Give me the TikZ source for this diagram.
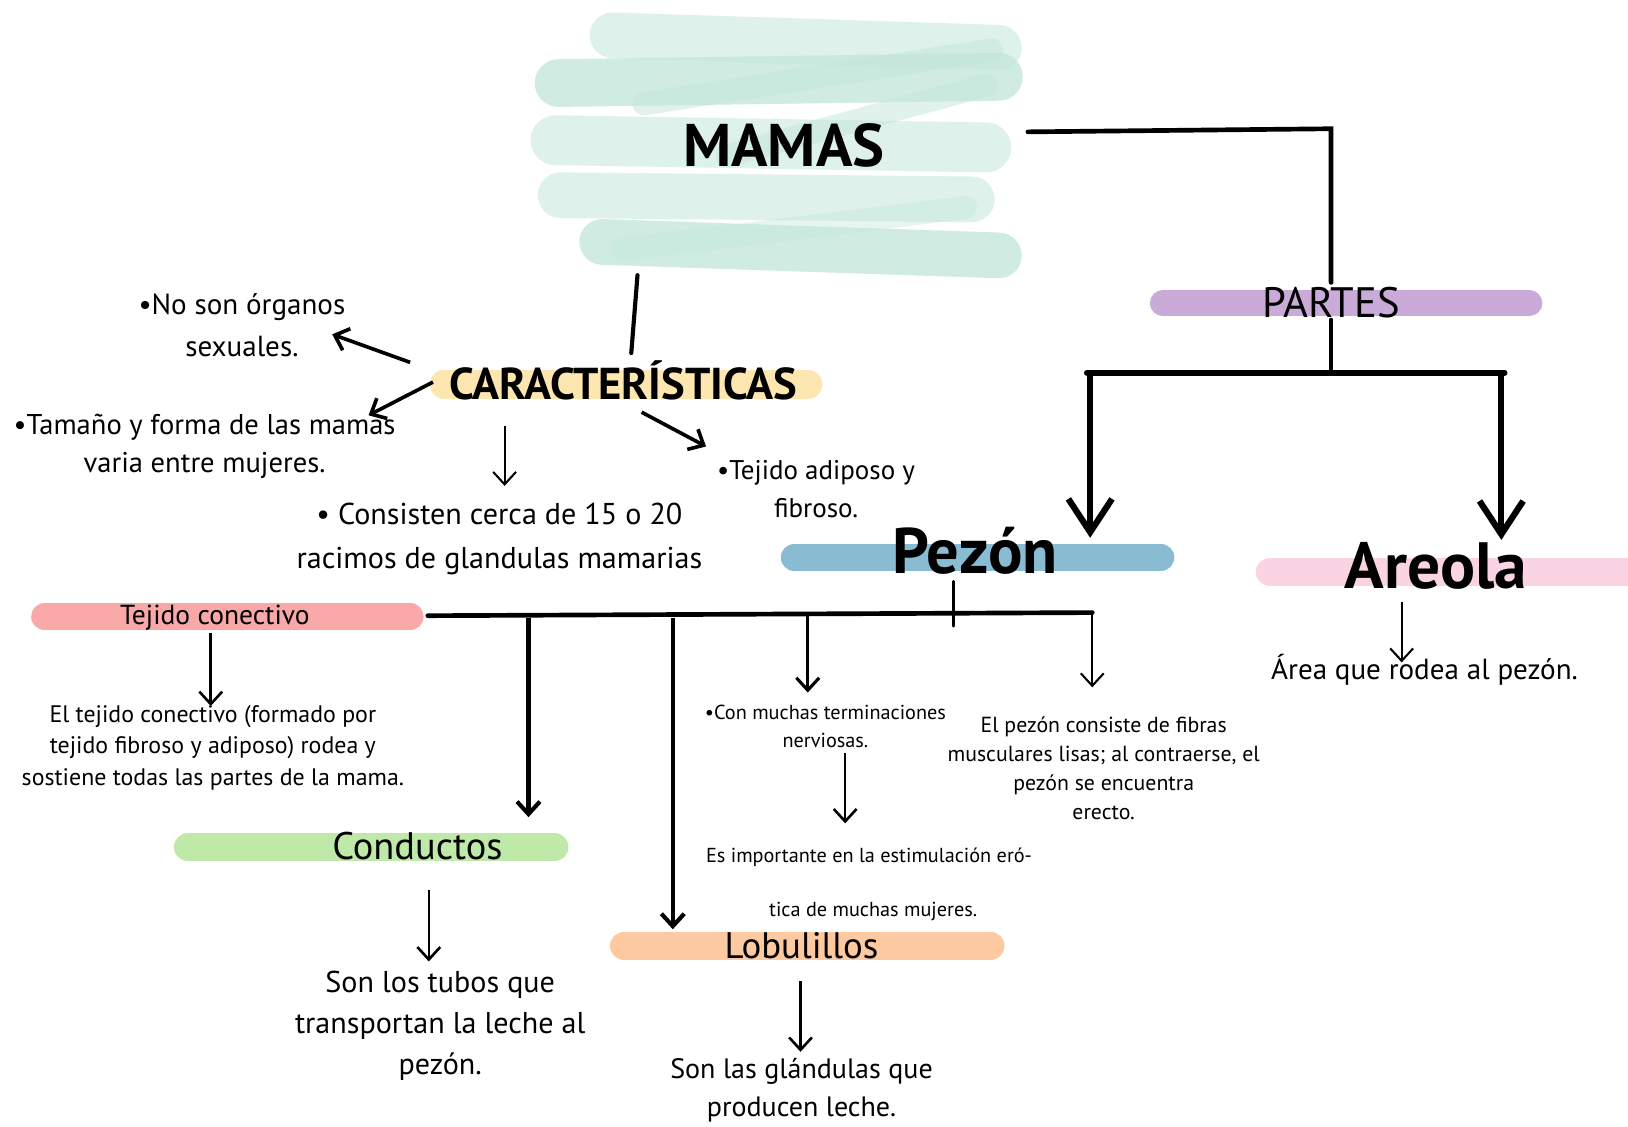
\documentclass[tikz,border=0pt]{standalone}
\usepackage{fontspec}
\setmainfont{PT Sans}
\usetikzlibrary{arrows.meta}
\definecolor{mint}{RGB}{196,230,219}
\definecolor{mintlt}{RGB}{214,238,230}
\definecolor{lila}{RGB}{201,170,217}
\definecolor{yell}{RGB}{253,230,176}
\definecolor{azul}{RGB}{137,188,210}
\definecolor{rosa}{RGB}{250,212,226}
\definecolor{rojo}{RGB}{249,168,168}
\definecolor{verde}{RGB}{190,233,168}
\definecolor{nara}{RGB}{253,201,160}
\tikzset{
  txt/.style 2 args={inner sep=0pt, align=center, font=\fontsize{#1}{#2}\selectfont},
  btxt/.style={inner sep=0pt, align=center, font=\fontsize{#1}{#1}\selectfont\bfseries},
  bar/.style={line cap=round, line width=#1},
  ln/.style={line width=#1, line cap=round, line join=miter},
  arr/.style={line width=#1, -{Straight Barb[length=12pt,width=22pt,line width=#1]}},
  bigarr/.style={line width=6pt, -{Straight Barb[length=32pt,width=42pt,line width=6pt]}},
  marker/.style={line cap=round, line width=#1, mint, opacity=0.8},
}
\begin{document}
\begin{tikzpicture}[x=1pt,y=-1pt]
\useasboundingbox[fill=white] (0,0) rectangle (1568,1085);
% ---------- MAMAS scribble ----------
\draw[marker=44pt, color=mintlt] (590,34) -- (962,46);
\draw[marker=46pt] (538,80) -- (962,74);
\draw[marker=48pt, color=mintlt] (535,135) -- (950,142);
\draw[marker=44pt, color=mintlt] (540,188) -- (936,192);
\draw[marker=44pt] (580,233) -- (962,246);
\draw[marker=22pt, opacity=0.5] (955,48) -- (620,100);
\draw[marker=22pt, opacity=0.5] (950,82) -- (700,150);
\draw[marker=22pt, opacity=0.4] (930,200) -- (600,240);
\node[btxt=58] (mamas) at (755,140) {MAMAS};
% ---------- bars ----------
\draw[bar=25pt, lila] (1120,292) -- (1473,292);
\draw[bar=28pt, yell] (428,370) -- (778,370);
\draw[bar=26pt, azul] (765,537) -- (1118,537);
\draw[bar=27pt, rosa] (1223,551) -- (1580,551);
\draw[bar=26pt, rojo] (43,594) -- (395,594);
\draw[bar=27pt, verde] (181,816) -- (534,816);
\draw[bar=27pt, nara] (601,911) -- (954,911);
% ---------- titles ----------
\node[txt={41}{41}] (partes) at (1282,291) {PARTES};
\node[btxt=43] (carac) at (600,366) {CARACTERÍSTICAS};
\node[btxt=62] (pezon) at (939,530) {Pezón};
\node[btxt=63] (areola) at (1383,545) {Areola};
\node[txt={26.5}{26.5}] (tejc) at (207,595) {Tejido conectivo};
\node[txt={37}{37}] (cond) at (402,815) {Conductos};
\node[txt={35.5}{35.5}] (lob) at (772,911) {Lobulillos};
% ---------- texts ----------
\node[txt={28}{40}] (nosex) at (233,313) {•No son órganos\\sexuales.};
\node[txt={27.5}{37}] (tamano) at (197,430) {•Tamaño y forma de las mamas\\varia entre mujeres.};
\node[txt={29}{42}] (consist) at (481,519) {• Consisten cerca de 15 o 20\\racimos de glandulas mamarias};
\node[txt={26}{37}] (tejad) at (786,471) {•Tejido adiposo y\\fibroso.};
\node[txt={23}{30.5}] (tejcd) at (205,720) {El tejido conectivo (formado por\\tejido fibroso y adiposo) rodea y\\sostiene todas las partes de la mama.};
\node[txt={19.5}{27}] (nerv) at (795,700) {•Con muchas terminaciones\\nerviosas.};
\node[txt={19.5}{52}] (esimp) at (837,852) {Es importante en la estimulación eró-\\\hspace*{8pt}tica de muchas mujeres.};
\node[txt={21}{28}] (pezd) at (1063,740) {El pezón consiste de fibras\\musculares lisas; al contraerse, el\\pezón se encuentra\\erecto.};
\node[txt={29}{39.5}] (condd) at (424,988) {Son los tubos que\\transportan la leche al\\pezón.};
\node[txt={27}{37}] (lobd) at (772,1050) {Son las glándulas que\\producen leche.};
\node[txt={28}{28}] (aread) at (1372,645) {Área que rodea al pezón.};
% ---------- coordinates ----------
\coordinate (mR) at (990,127);
\coordinate (mC) at (1282,124);
\coordinate (pT) at (1282,272);
\coordinate (pB) at (1282,308);
\coordinate (pJ) at (1282,359);
\coordinate (pL) at (1050,359);
\coordinate (pR) at (1446,359);
\coordinate (pLe) at (1050,518);
\coordinate (pRe) at (1446,520);
\coordinate (mB) at (614,265);
\coordinate (cT) at (608,340);
\coordinate (c1s) at (395,349); \coordinate (c1e) at (320,322);
\coordinate (c2s) at (417,368); \coordinate (c2e) at (355,400);
\coordinate (c3s) at (486,410); \coordinate (c3e) at (486,468);
\coordinate (c4s) at (618,397); \coordinate (c4e) at (680,430);
\coordinate (tS) at (203,610); \coordinate (tE) at (203,680);
\coordinate (hL) at (412,593); \coordinate (hR) at (1052,590);
\coordinate (zS) at (918,560); \coordinate (zE) at (918,603);
\coordinate (d1s) at (509,595); \coordinate (d1e) at (509,787);
\coordinate (d2s) at (648,595); \coordinate (d2e) at (648,895);
\coordinate (d3s) at (778,592); \coordinate (d3e) at (778,667);
\coordinate (d4s) at (1052,590); \coordinate (d4e) at (1052,662);
\coordinate (nS) at (814,725); \coordinate (nE) at (814,793);
\coordinate (kS) at (413,857); \coordinate (kE) at (413,926);
\coordinate (lS) at (771,945); \coordinate (lE) at (771,1013);
\coordinate (aS) at (1350,580); \coordinate (aE) at (1350,638);
% ---------- connectors ----------
\draw[ln=4.5pt] (mR) -- (mC) -- (pT);
\draw[ln=4pt] (pB) -- (pJ);
\draw[ln=6pt] ([xshift=-3pt]pL) -- ([xshift=3pt]pR);
\draw[bigarr] (pL) -- (pLe);
\draw[bigarr] (pR) -- (pRe);
\draw[ln=4pt] (mB) -- (cT);
\draw[arr=3.5pt] (c1s) -- (c1e);
\draw[arr=3.5pt] (c2s) -- (c2e);
\draw[arr=2pt] (c3s) -- (c3e);
\draw[arr=3.5pt] (c4s) -- (c4e);
\draw[arr=2.5pt] (tS) -- (tE);
\draw[ln=4.5pt] (hL) -- (hR);
\draw[ln=3pt] (zS) -- (zE);
\draw[arr=4pt] (d1s) -- (d1e);
\draw[arr=4pt] (d2s) -- (d2e);
\draw[arr=3pt] (d3s) -- (d3e);
\draw[arr=2pt] (d4s) -- (d4e);
\draw[arr=2.5pt] (nS) -- (nE);
\draw[arr=2.5pt] (kS) -- (kE);
\draw[arr=2.5pt] (lS) -- (lE);
\draw[arr=2pt] (aS) -- (aE);
\end{tikzpicture}
\end{document}
